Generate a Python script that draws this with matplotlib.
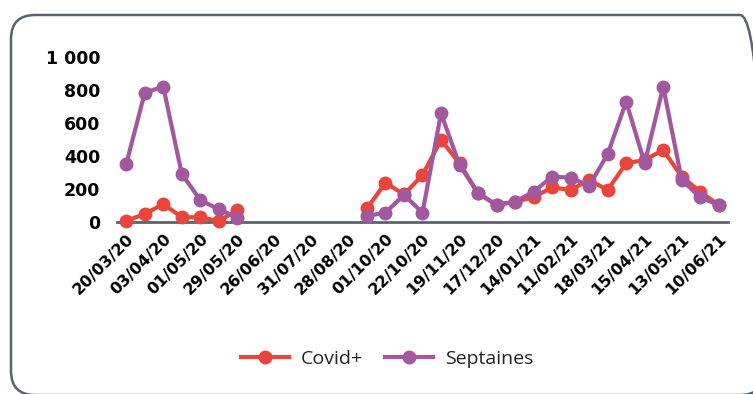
import numpy as np
import matplotlib.pyplot as plt
from matplotlib.patches import FancyBboxPatch

plt.rcParams['font.family'] = ['Open Sans', 'DejaVu Sans']

dates = ["20/03/20", "27/03/20", "03/04/20", "17/04/20", "01/05/20", "15/05/20",
         "29/05/20", "12/06/20", "26/06/20", "10/07/20", "31/07/20", "14/08/20",
         "28/08/20", "11/09/20", "01/10/20", "08/10/20", "22/10/20", "05/11/20",
         "19/11/20", "03/12/20", "17/12/20", "31/12/20", "14/01/21", "28/01/21",
         "11/02/21", "25/02/21", "18/03/21", "01/04/21", "15/04/21", "29/04/21",
         "13/05/21", "27/05/21", "10/06/21"]

nan = np.nan
covid = [5, 47, 107, 27, 27, 3, 71,
         nan, nan, nan, nan, nan, nan,
         81, 236, 165, 283, 495, 354, 172, 104, 121, 148, 208,
         192, 253, 192, 354, 374, 434, 273, 182, 101]
septaines = [350, 782, 818, 289, 131, 75, 25,
             nan, nan, nan, nan, nan, nan,
             35, 55, 162, 55, 657, 344, 172, 101, 121, 182, 273,
             267, 216, 410, 727, 354, 818, 253, 148, 101]

red = "#e8453c"
purple = "#a2589f"
tickfont = dict(family="DejaVu Sans", weight="bold")

fig = plt.figure(figsize=(7.53, 3.94), dpi=100)
ax = fig.add_axes([117/753, 1 - 221.7/394, 611/753, 165/394])

x = np.arange(len(dates))
ax.plot(x, covid, color=red, lw=3, marker="o", ms=9, label="Covid+", clip_on=False)
ax.plot(x, septaines, color=purple, lw=3, marker="o", ms=9, label="Septaines", clip_on=False)

ax.set_xlim(-0.5, len(dates) - 0.5)
ax.set_ylim(0, 1000)
ax.set_yticks([0, 200, 400, 600, 800, 1000])
ax.set_yticklabels(["0", "200", "400", "600", "800", "1 000"], fontsize=12.5, **tickfont)
ax.set_xticks(x[::2])
ax.set_xticklabels(dates[::2], rotation=45, ha="right", va="top", rotation_mode="anchor",
                   fontsize=11.5, **tickfont)
ax.tick_params(axis="y", length=0, pad=12)
ax.tick_params(axis="x", length=0, pad=7)

for s in ["top", "right", "left"]:
    ax.spines[s].set_visible(False)
ax.spines["bottom"].set_color("#5b6270")
ax.spines["bottom"].set_linewidth(2)
ax.spines["bottom"].set_zorder(0)

fig.legend(loc="center", bbox_to_anchor=(387/753, 1 - 359/394), ncol=2, frameon=False,
           fontsize=14, handlelength=2.5, columnspacing=1.1, handletextpad=0.6,
           labelcolor="#222222")

# rounded frame, in pixels (bottom/right run off the image)
box = FancyBboxPatch((11, -1), 753, 380, boxstyle="round,pad=0,rounding_size=24",
                     transform=None, fill=False, edgecolor="#5b6270", lw=1.8)
fig.patches.append(box)

fig.savefig("out.png", dpi=100)
